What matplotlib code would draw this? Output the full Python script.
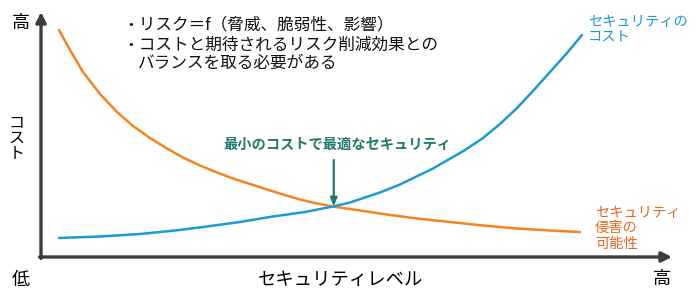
import matplotlib
matplotlib.use("Agg")
import matplotlib.pyplot as plt

plt.rcParams['font.family'] = ['Noto Sans CJK JP', 'DejaVu Sans']

# Security level (0-100) vs cost (0-100)
breach_level = [2.85, 4.60, 6.66, 9.35, 12.04, 14.58, 17.27, 19.97, 22.50, 25.20,
                27.89, 30.43, 33.12, 35.82, 38.35, 41.05, 43.74, 46.28, 48.97,
                54.20, 59.59, 64.82, 70.05, 75.44, 80.67, 85.42]
breach_cost = [92.65, 84.49, 75.51, 66.53, 59.18, 53.47, 48.57, 44.29, 40.61, 37.35,
               34.49, 32.04, 29.80, 27.55, 25.51, 23.47, 21.84, 20.61, 19.59,
               17.55, 15.71, 14.29, 12.86, 11.63, 10.82, 10.20]

sec_level = [2.85, 9.35, 15.69, 21.24, 26.31, 31.54, 36.77, 41.84, 46.28, 48.97,
             53.72, 56.89, 62.12, 67.20, 70.05, 72.74, 75.44, 77.97, 80.67,
             83.36, 85.74]
sec_cost = [7.76, 8.37, 9.39, 10.82, 12.45, 14.29, 16.53, 18.37, 20.61, 22.24,
            26.33, 29.59, 36.12, 43.67, 48.57, 54.29, 60.82, 67.76, 75.51,
            83.27, 90.61]

optimum_level = 46.4
optimum_cost = 20.6

bullets = ["・リスク＝f（脅威、脆弱性、影響）",
           "・コストと期待されるリスク削減効果との",
           "バランスを取る必要がある"]
optimum_label = "最小のコストで最適なセキュリティ"
sec_label = ["セキュリティの", "コスト"]
breach_label = ["セキュリティ", "侵害の", "可能性"]
x_label = "セキュリティレベル"
y_label = "コ\nス\nト"

ORANGE = "#f5831f"
ORANGE_TXT = "#e8661c"
BLUE = "#1b9ad6"
TEAL = "#1f7a6c"
AXIS = "#3c3c3c"

fig = plt.figure(figsize=(7.0, 3.01), dpi=100)
ax = fig.add_axes([0, 0, 1, 1])
ax.set_xlim(-6.50, 104.44)
ax.set_ylim(-17.96, 104.90)
ax.axis('off')

# axes arrows
ax.annotate("", xy=(0, 100), xytext=(0, -0.6),
            arrowprops=dict(arrowstyle="-|>,head_length=0.6,head_width=0.3",
                            color=AXIS, lw=2.4, shrinkA=0, shrinkB=0))
ax.annotate("", xy=(100, 0), xytext=(-0.25, 0),
            arrowprops=dict(arrowstyle="-|>,head_length=0.6,head_width=0.3",
                            color=AXIS, lw=2.4, shrinkA=0, shrinkB=0))

# curves
ax.plot(breach_level, breach_cost, color=ORANGE, lw=1.8,
        solid_capstyle='round', solid_joinstyle='round')
ax.plot(sec_level, sec_cost, color=BLUE, lw=1.8,
        solid_capstyle='round', solid_joinstyle='round')

# optimum arrow
ax.annotate("", xy=(optimum_level, optimum_cost), xytext=(optimum_level, 39.6),
            arrowprops=dict(arrowstyle="-|>,head_length=0.5,head_width=0.2",
                            color=TEAL, lw=1.6, shrinkA=0, shrinkB=0))
ax.text(47.0, 45.7, optimum_label, color=TEAL, fontsize=10.3, fontweight='bold',
        ha='center', va='center')

# bullet text
ax.text(12.9, 94.7, bullets[0], fontsize=12, ha='left', va='center', color='#111111')
ax.text(12.9, 86.5, bullets[1], fontsize=12, ha='left', va='center', color='#111111')
ax.text(15.4, 79.2, bullets[2], fontsize=12, ha='left', va='center', color='#111111')

# curve labels
ax.text(86.7, 95.9, sec_label[0], color=BLUE, fontsize=10.3, ha='left', va='center')
ax.text(86.7, 89.8, sec_label[1], color=BLUE, fontsize=10.3, ha='left', va='center')
for i, s in enumerate(breach_label):
    ax.text(87.8, 18.0 - i * 6.3, s, color=ORANGE_TXT, fontsize=10.3,
            ha='left', va='center')

# axis texts
ax.text(-3.2, 95.7, "高", fontsize=13, ha='center', va='center')
ax.text(-3.2, -9.4, "低", fontsize=13, ha='center', va='center')
ax.text(98.4, -9.0, "高", fontsize=13, ha='center', va='center')
ax.text(47.4, -9.4, x_label, fontsize=13.2, ha='center', va='center')
ax.text(-3.9, 48.5, y_label, fontsize=11.5, ha='center', va='center', linespacing=0.9)

fig.savefig("out.png", dpi=100)
